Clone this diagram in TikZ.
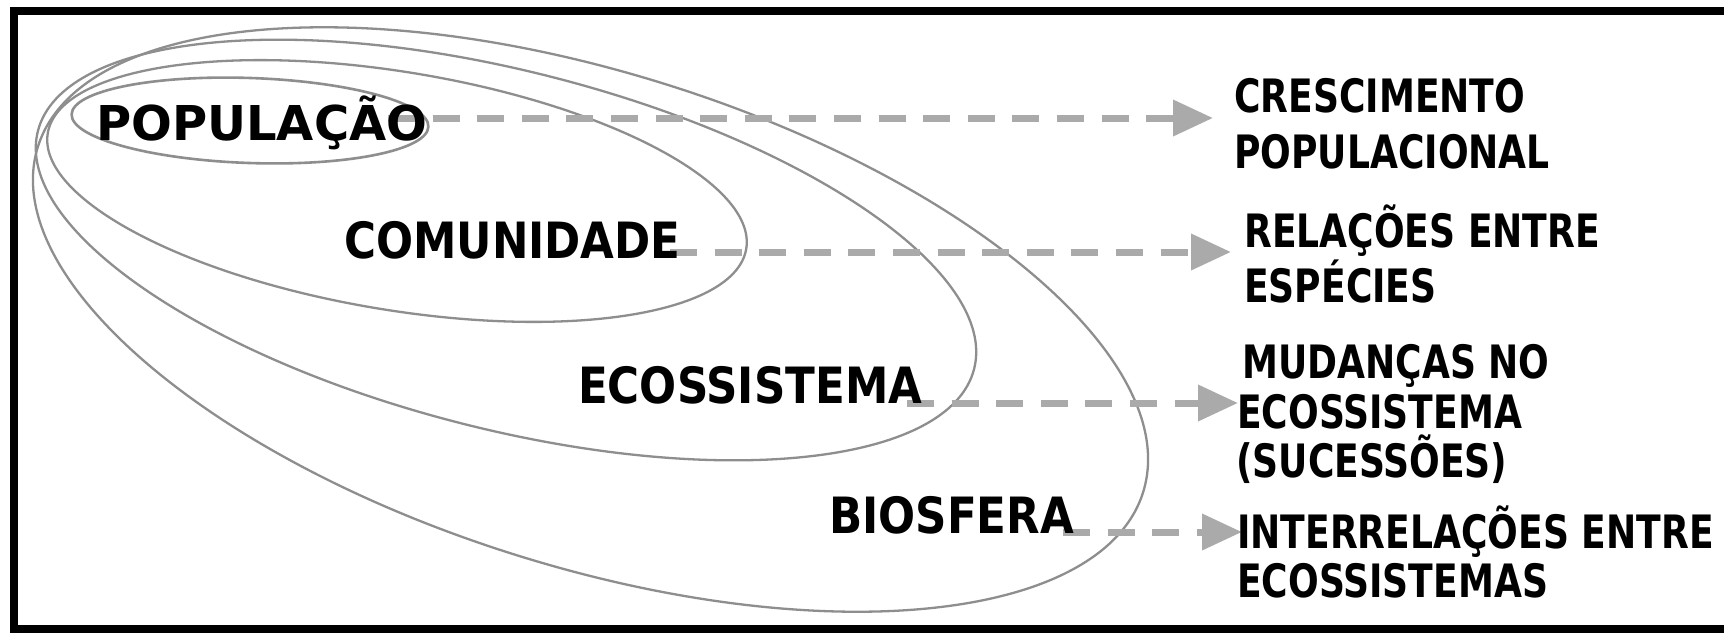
\documentclass[tikz,border=0pt]{standalone}
\usepackage{fontspec}
\usetikzlibrary{arrows.meta}
\newfontfamily\popfont{DejaVu Sans Bold}
\newfontfamily\levfont{DejaVu Sans Bold}[FakeStretch=0.872]
\newfontfamily\resfont{DejaVu Sans Bold}[FakeStretch=0.785]
\definecolor{ellgray}{HTML}{8E8E8E}
\definecolor{arrgray}{HTML}{AAAAAA}
\begin{document}
\begin{tikzpicture}[x=1pt,y=-1pt,
  ell/.style={draw=ellgray, line width=2.3pt},
  flow/.style={draw=arrgray, line width=7pt, dash pattern=on 27pt off 17.6pt,
    -{Triangle[length=40pt,width=35pt,fill=arrgray]}},
  lev/.style={anchor=base west, inner sep=0pt, font=\levfont\fontsize{50}{50}\selectfont},
  pop/.style={anchor=base west, inner sep=0pt, font=\popfont\fontsize{48}{48}\selectfont},
  res/.style={anchor=base west, inner sep=0pt, font=\resfont\fontsize{46}{46}\selectfont}]
\useasboundingbox (0,0) rectangle (1724,633);
\fill[white] (0,0) rectangle (1724,633);
% frame (open on the right)
\draw[line width=8pt] (1724,11) -- (14,11) -- (14,629) -- (1724,629);
% nested ellipses
\draw[ell, rotate around={-17.35:(590.5,319.5)}] (590.5,319.5) ellipse [x radius=579, y radius=247];
\draw[ell, rotate around={-14.25:(506,250)}] (506,250) ellipse [x radius=483, y radius=179];
\draw[ell, rotate around={-9.4:(397,191)}] (397,191) ellipse [x radius=354, y radius=119];
\draw[ell, line width=2.6pt, rotate around={-2:(250,120.5)}] (250,120.5) ellipse [x radius=178.5, y radius=42.5];
% arrow end points
\coordinate (a1s) at (388,118);  \coordinate (a1e) at (1213,118);
\coordinate (a2s) at (670,252);  \coordinate (a2e) at (1231,252);
\coordinate (a3s) at (907,403);  \coordinate (a3e) at (1238,403);
\coordinate (a4s) at (1063,532); \coordinate (a4e) at (1242,532);
\draw[flow] (a1s) -- (a1e);
\draw[flow] (a2s) -- (a2e);
\draw[flow] (a3s) -- (a3e);
\draw[flow] (a4s) -- (a4e);
% level labels
\node[pop] (populacao) at (96,140) {POPULAÇÃO};
\node[lev] (comunidade) at (344,258) {COMUNIDADE};
\node[lev] (ecossistema) at (578,403) {ECOSSISTEMA};
\node[lev] (biosfera) at (829,533) {BIOSFERA};
% result labels
\node[res] (r1a) at (1234,112) {CRESCIMENTO};
\node[res] (r1b) at (1234,168) {POPULACIONAL};
\node[res] (r2a) at (1244,247) {RELAÇÕES ENTRE};
\node[res] (r2b) at (1244,302) {ESPÉCIES};
\node[res] (r3a) at (1242,378) {MUDANÇAS NO};
\node[res] (r3b) at (1237,428) {ECOSSISTEMA};
\node[res] (r3c) at (1236,477) {(SUCESSÕES)};
\node[res] (r4a) at (1237,548) {INTERRELAÇÕES ENTRE};
\node[res] (r4b) at (1237,597) {ECOSSISTEMAS};
\end{tikzpicture}
\end{document}
